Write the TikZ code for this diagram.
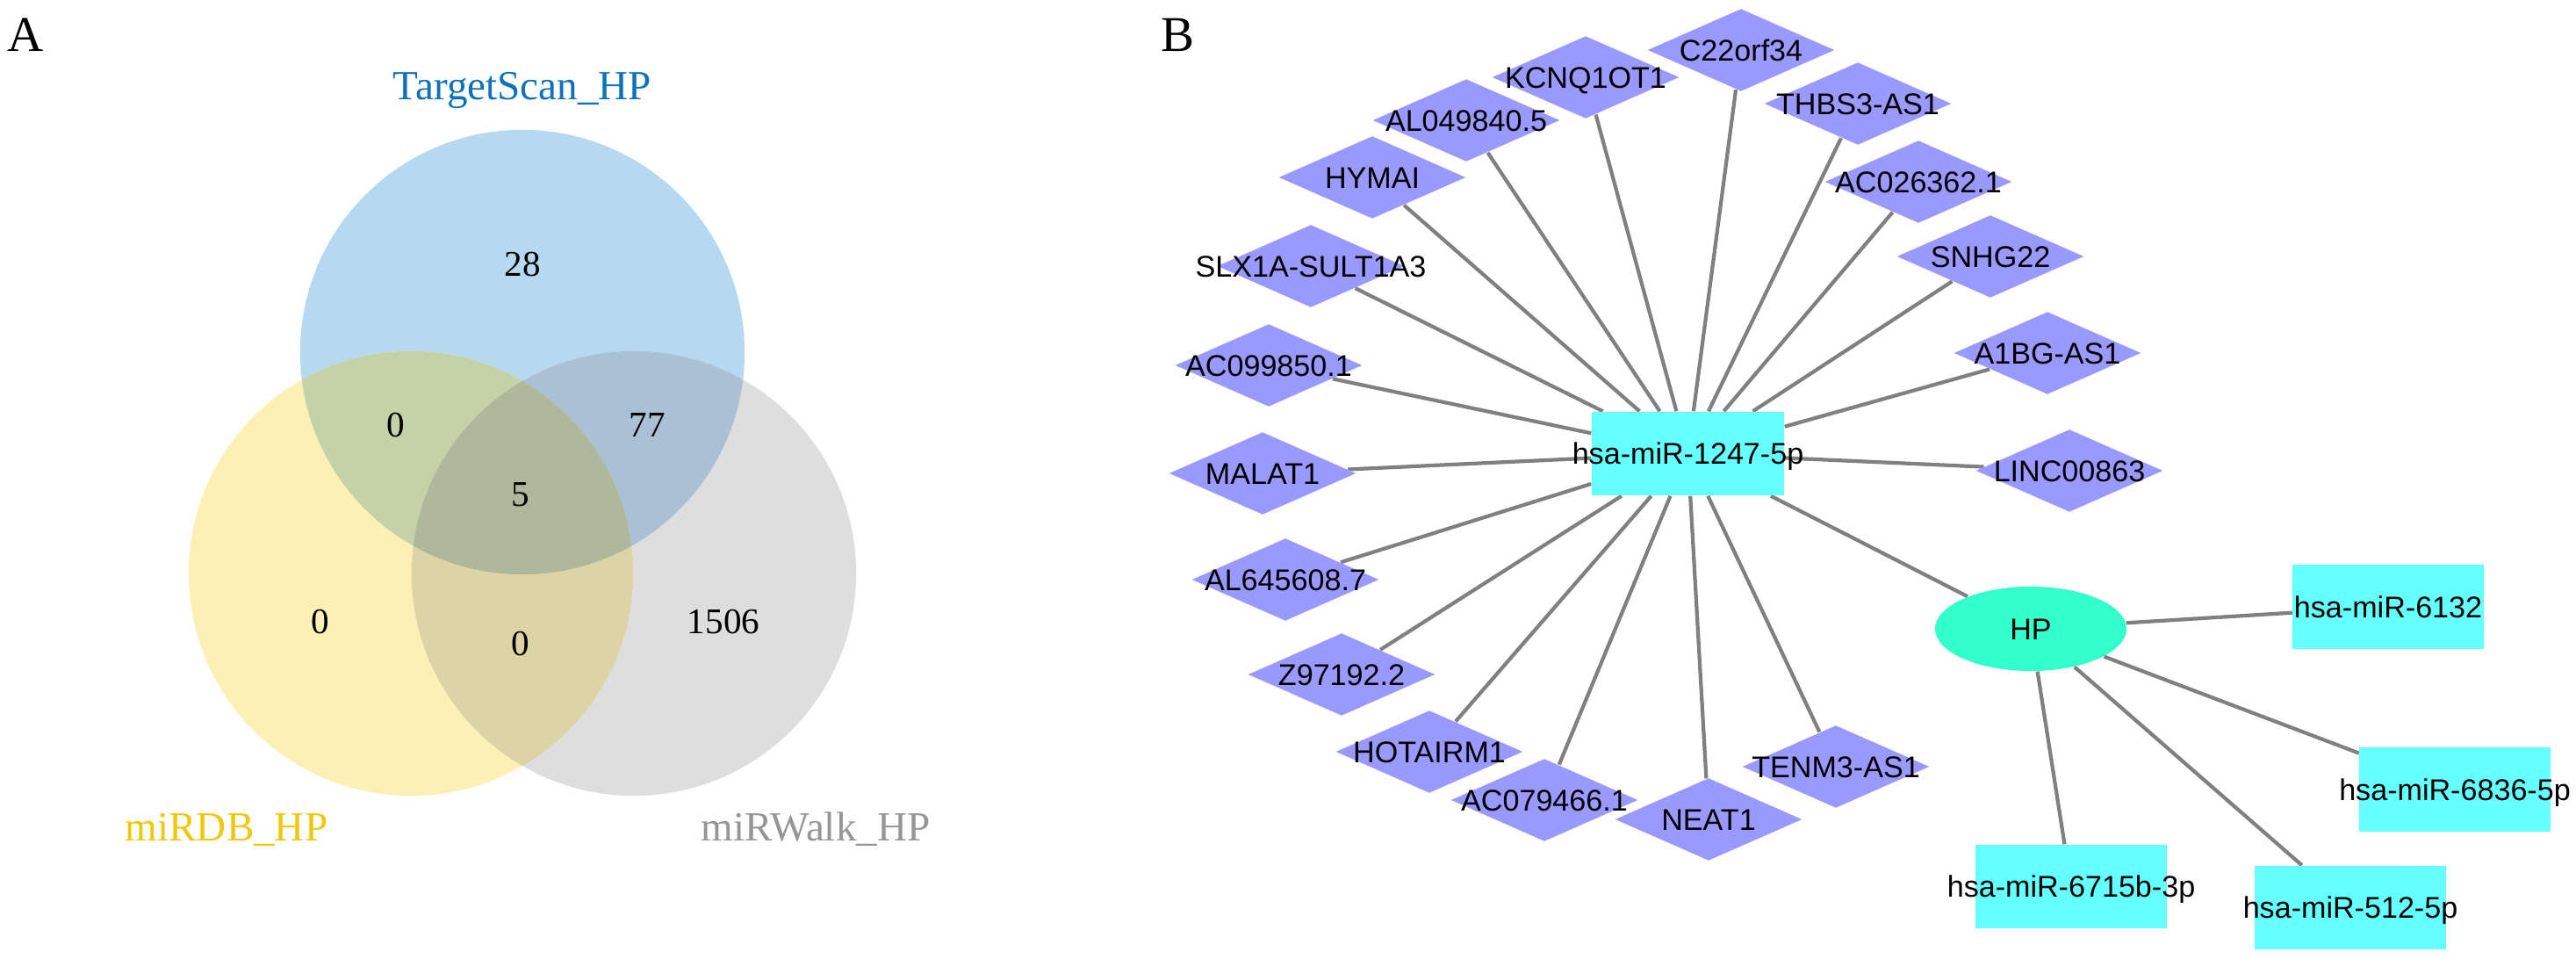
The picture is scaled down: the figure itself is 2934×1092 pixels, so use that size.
\documentclass[tikz,border=0pt]{standalone}
\usepackage{fontspec}
\setmainfont{Liberation Serif}
\newfontfamily\arialf{Liberation Sans}
\usetikzlibrary{shapes.geometric}
\pgfdeclarelayer{background}
\pgfsetlayers{background,main}
\definecolor{vblue}{RGB}{182,216,240}
\definecolor{vyel}{RGB}{253,240,180}
\definecolor{vgray}{RGB}{222,222,222}
\definecolor{vby}{RGB}{196,210,168}
\definecolor{vbg}{RGB}{170,192,212}
\definecolor{vyg}{RGB}{221,212,165}
\definecolor{vbyg}{RGB}{176,184,155}
\definecolor{tsblue}{RGB}{14,114,186}
\definecolor{dbgold}{RGB}{240,200,10}
\definecolor{mwgray}{RGB}{150,150,150}
\definecolor{dcol}{RGB}{153,153,255}
\definecolor{bcol}{RGB}{102,255,255}
\definecolor{hcol}{RGB}{51,255,204}
\definecolor{ecol}{RGB}{128,128,128}
\tikzset{
  vlab/.style={font=\fontsize{13.4}{16}\selectfont, inner sep=0pt, anchor=base},
  vnum/.style={font=\fontsize{11.7}{14}\selectfont, inner sep=0pt},
  panel/.style={font=\fontsize{16.2}{19}\selectfont, inner sep=0pt},
  lab/.style={font=\arialf\fontsize{9.7}{11}\selectfont, inner sep=0pt, text height=6.95pt, text depth=0pt, text=black},
  dia/.style={diamond, fill=dcol, draw=none, inner sep=0pt, minimum width=2.13cm, minimum height=0.94cm},
  mbox/.style={rectangle, fill=bcol, draw=none, inner sep=0pt, minimum width=2.17cm, minimum height=0.95cm},
  hpn/.style={ellipse, fill=hcol, draw=none, inner sep=0pt, minimum width=2.18cm, minimum height=0.96cm},
  edge/.style={draw=ecol, line width=1.2pt}
}
\begin{document}
\begin{tikzpicture}[x=0.01cm, y=-0.01cm]
\useasboundingbox (0,0) rectangle (2934,1092);
% ---------- Panel A : Venn ----------
\coordinate (cb) at (595,401);
\coordinate (cy) at (468,653);
\coordinate (cg) at (722,653);
\fill[vblue] (cb) circle[radius=2.53cm];
\fill[vyel] (cy) circle[radius=2.53cm];
\fill[vgray] (cg) circle[radius=2.53cm];
\begin{scope}
  \clip (cb) circle[radius=2.53cm];
  \fill[vby] (cy) circle[radius=2.53cm];
  \fill[vbg] (cg) circle[radius=2.53cm];
\end{scope}
\begin{scope}
  \clip (cy) circle[radius=2.53cm];
  \fill[vyg] (cg) circle[radius=2.53cm];
\end{scope}
\begin{scope}
  \clip (cb) circle[radius=2.53cm];
  \clip (cy) circle[radius=2.53cm];
  \fill[vbyg] (cg) circle[radius=2.53cm];
\end{scope}
\node[panel] (pa) at (29,40) {A};
\node[vlab, text=tsblue] (lts) at (595,113.5) {TargetScan\_HP};
\node[vlab, text=dbgold] (ldb) at (258,957) {miRDB\_HP};
\node[vlab, text=mwgray] (lmw) at (929,957) {miRWalk\_HP};
\node[vnum] (n28) at (595,301) {28};
\node[vnum] (nby) at (451,484) {0};
\node[vnum] (n77) at (737,484) {77};
\node[vnum] (n5) at (593,563) {5};
\node[vnum] (ny) at (365,708) {0};
\node[vnum] (nyg) at (593,733) {0};
\node[vnum] (n1506) at (824,708) {1506};
% ---------- Panel B : network ----------
\node[panel] (pb) at (1341,40) {B};
\node[dia, label={[lab]center:C22orf34}] (c22) at (1983,57) {};
\node[dia, label={[lab]center:KCNQ1OT1}] (kcn) at (1806,88) {};
\node[dia, label={[lab]center:THBS3-AS1}] (thb) at (2116,118) {};
\node[dia, label={[lab]center:AL049840.5}] (al04) at (1670,137) {};
\node[dia, label={[lab]center:HYMAI}] (hym) at (1563,202) {};
\node[dia, label={[lab]center:AC026362.1}] (ac02) at (2185,207) {};
\node[dia, label={[lab]center:SNHG22}] (snh) at (2267,292) {};
\node[dia, label={[lab]center:SLX1A-SULT1A3}] (slx) at (1493,303) {};
\node[dia, label={[lab]center:A1BG-AS1}] (a1b) at (2332,402) {};
\node[dia, label={[lab]center:AC099850.1}] (ac09) at (1445,416) {};
\node[dia, label={[lab]center:MALAT1}] (mal) at (1438,539) {};
\node[dia, label={[lab]center:LINC00863}] (linc) at (2357,536) {};
\node[dia, label={[lab]center:AL645608.7}] (al64) at (1464,660) {};
\node[dia, label={[lab]center:Z97192.2}] (z97) at (1528,768) {};
\node[dia, label={[lab]center:HOTAIRM1}] (hot) at (1628,856) {};
\node[dia, label={[lab]center:AC079466.1}] (ac07) at (1759,911) {};
\node[dia, label={[lab]center:NEAT1}] (nea) at (1946,933) {};
\node[dia, label={[lab]center:TENM3-AS1}] (ten) at (2091,873) {};
\node[mbox, minimum width=2.19cm, label={[lab]center:hsa-miR-1247-5p}] (hub) at (1922.5,516.5) {};
\node[hpn, label={[lab]center:HP}] (hp) at (2313,716) {};
\node[mbox, label={[lab]center:hsa-miR-6132}] (m6132) at (2720,691) {};
\node[mbox, label={[lab]center:hsa-miR-6836-5p}] (m6836) at (2796,899) {};
\node[mbox, label={[lab]center:hsa-miR-6715b-3p}] (m6715) at (2359,1009.5) {};
\node[mbox, label={[lab]center:hsa-miR-512-5p}] (m512) at (2677,1033.5) {};
\begin{pgfonlayer}{background}
\foreach \t in {c22,kcn,thb,al04,hym,ac02,snh,slx,a1b,ac09,mal,linc,al64,z97,hot,ac07,nea,ten,hp}
  \draw[edge] (hub) -- (\t);
\foreach \t in {m6132,m6836,m6715,m512}
  \draw[edge] (hp) -- (\t);
\end{pgfonlayer}
\end{tikzpicture}
\end{document}
